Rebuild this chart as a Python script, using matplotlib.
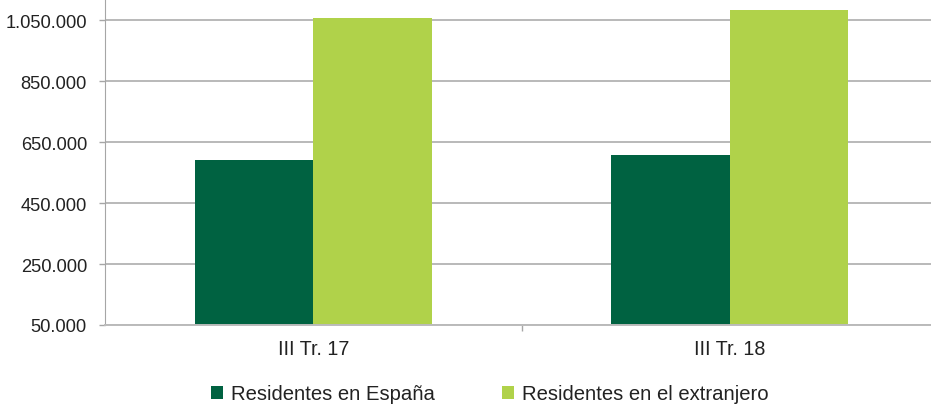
import numpy as np
import matplotlib.pyplot as plt
from matplotlib.patches import Patch

# Data
periods = ['III Tr. 17', 'III Tr. 18']
residentes_espana = [592000, 607000]
residentes_extranjero = [1056000, 1084000]
series_names = ['Residentes en España', 'Residentes en el extranjero']
yticks = [50000, 250000, 450000, 650000, 850000, 1050000]

dark = '#006241'
light = '#b0d24a'
grid_col = '#a6a6a6'

plt.rcParams['font.family'] = ['Liberation Sans', 'DejaVu Sans']

fig = plt.figure(figsize=(9.31, 4.06), dpi=100)
ax = fig.add_axes([105 / 931, 80 / 406, 826 / 931, 326 / 406])

x = np.arange(len(periods))
w = 0.285
ax.bar(x - w / 2, residentes_espana, w, color=dark, zorder=3)
ax.bar(x + w / 2, residentes_extranjero, w, color=light, zorder=3)

ax.set_xlim(-0.501, 1.484)
ax.set_ylim(50000, 1119000)

ax.set_yticks(yticks)
ax.set_yticklabels([f'{v:,}'.replace(',', '.') for v in yticks], fontsize=13.2, color='#222222')
ax.yaxis.grid(True, color=grid_col, linewidth=1.1, zorder=0)
ax.tick_params(axis='y', length=4, width=1, color=grid_col, pad=9)

# category labels between tick marks
ax.set_xticks([0.5])
ax.set_xticklabels([''])
ax.set_xticks(x, minor=True)
ax.set_xticklabels(periods, minor=True, fontsize=14.2, color='#222222')
ax.tick_params(axis='x', which='major', length=4, width=1, color=grid_col)
ax.tick_params(axis='x', which='minor', length=0, pad=10)

for s in ['top', 'right']:
    ax.spines[s].set_visible(False)
ax.spines['left'].set_color(grid_col)
ax.spines['bottom'].set_color('#bbbbbb')
ax.spines['bottom'].set_linewidth(1.4)
ax.spines['bottom'].set_zorder(4)

handles = [Patch(facecolor=dark), Patch(facecolor=light)]
fig.legend(handles, series_names, loc='center', bbox_to_anchor=(490 / 931, 1 - 395 / 406),
           ncol=2, frameon=False, fontsize=14.6, handlelength=0.6, handleheight=0.6,
           handletextpad=0.4, columnspacing=3.3, labelcolor='#222222',
           borderpad=0.1)

fig.savefig('out.png', dpi=100)
